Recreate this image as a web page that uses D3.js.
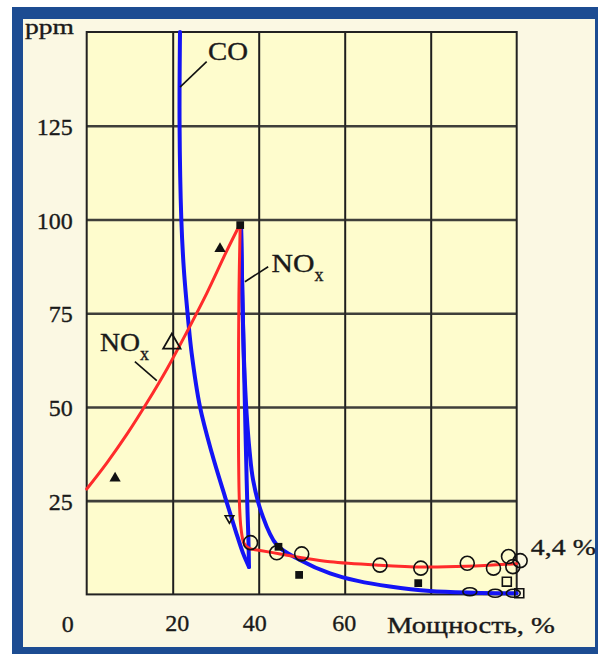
<!DOCTYPE html>
<html>
<head>
<meta charset="utf-8">
<script src="https://cdn.jsdelivr.net/npm/d3@7/dist/d3.min.js"></script>
<style>
  html, body { margin: 0; padding: 0; background: #ffffff; }
  svg { display: block; }
  text { font-family: "Liberation Serif", "Times New Roman", serif; fill: #1a1a1a; stroke: #1a1a1a; stroke-width: 0.35px; }
</style>
</head>
<body>
<script>
// Axis ticks and labels
const xTicks = [20, 40, 60, 80];
const xTickLabels = ["20", "40", "60", ""];
const yTicks = [25, 50, 75, 100, 125];
const yTickLabels = ["25", "50", "75", "100", "125"];

// NOx curve (red): rising branch up to the peak, then the sharp drop and flat tail
const noxRise = [[0, 28.1], [4.7, 35.1], [9.4, 42.8], [14.0, 51.1], [18.7, 60.2], [23.3, 70.0], [28.0, 80.5], [32.6, 91.7], [35.6, 98.6]];
const noxFall = [[35.7, 98.6], [35.4, 80], [35.3, 60], [35.3, 40], [35.5, 25], [35.9, 17.5], [36.6, 13.6], [37.8, 12.3], [40, 11.8], [45, 10.8], [50, 9.8], [56.6, 8.7], [67.8, 7.8], [78.2, 7.3], [88.4, 7.5], [100, 8.2]];

// CO curves (blue)
const coLeft = [[21.7, 150], [21.6, 125], [22.0, 100.2], [22.6, 86.6], [23.6, 73.2], [24.4, 64.4], [26.35, 50], [29.1, 37.7], [32.2, 25.9], [34.7, 16.7], [36.35, 11.0], [37.74, 7.3]];
const coRise = [[37.74, 7.3], [37.6, 15], [37.4, 22], [37.2, 30.5], [37.0, 40], [36.8, 50], [36.5, 65], [36.2, 80], [35.9, 98]];
const coRight = [[35.9, 98], [36.2, 80], [36.6, 62], [37.2, 48], [37.9, 38], [38.7, 30.5], [40.7, 21.6], [44.2, 13.2], [49.6, 9.2], [56.6, 5.6], [63, 3.6], [70.5, 2.1], [79.8, 0.9], [90, 0.45], [100, 0.3]];

// Measured points
const filledTriangles = [[6.6, 31.0], [31.0, 92.2]];
const openTriangles = [[19.8, 66.9]];
const smallOpenTriangles = [[33.2, 20.3]];
const filledSquares = [[35.7, 98.5], [44.6, 12.7], [49.4, 5.2], [77.1, 3.0]];
const openSquares = [[97.7, 3.4], [100.6, 0.3]];
const openCircles = [[38.1, 13.8], [44.2, 11.1], [50.0, 10.8], [68.2, 7.8], [77.7, 7.0], [88.5, 8.3], [94.6, 7.0], [98.1, 10.1], [99.1, 7.4], [100.8, 9.0]];
const openOvals = [[89.1, 0.7], [95.0, 0.3], [99.2, 0.3]];

const W = 598, H = 654;
const margin = { left: 86.7, right: W - 516.7, top: 32, bottom: H - 594.4 };

const svg = d3.select("body").append("svg").attr("width", W).attr("height", H);

// Frame: blue border and cream panel
svg.append("rect").attr("x", 12).attr("y", 7).attr("width", W).attr("height", H + 10).attr("fill", "#1c4c92");
svg.append("rect").attr("x", 23).attr("y", 19).attr("width", 572).attr("height", 628).attr("fill", "#fbf8e3");

const x = d3.scaleLinear().domain([0, 100]).range([margin.left, W - margin.right]);
const y = d3.scaleLinear().domain([0, 150]).range([H - margin.bottom, margin.top]);
const pw = x(100) - x(0), ph = y(0) - y(150);

// Plot background
svg.append("rect").attr("x", x(0)).attr("y", y(150)).attr("width", pw).attr("height", ph)
  .attr("fill", "#fefccd");

// Grid via axes
const xLabelShift = [4, -4.5, -1, 0];
const gx = svg.append("g").attr("transform", `translate(0,${y(0)})`)
  .call(d3.axisBottom(x).tickValues(xTicks).tickSize(-ph).tickPadding(22)
    .tickFormat((d, i) => xTickLabels[i]));
const gy = svg.append("g").attr("transform", `translate(${x(0)},0)`)
  .call(d3.axisLeft(y).tickValues(yTicks).tickSize(-pw).tickPadding(14)
    .tickFormat((d, i) => yTickLabels[i]));
[gx, gy].forEach(g => {
  g.select(".domain").remove();
  g.selectAll(".tick text").attr("font-family", "Liberation Serif").attr("font-size", 24)
    .attr("fill", "#1a1a1a").attr("stroke", "#1a1a1a").attr("stroke-width", 0.35);
});
gx.selectAll(".tick text").attr("dx", (d, i) => xLabelShift[i]).attr("dy", "0.62em");
gx.selectAll(".tick line").attr("stroke", "#1e1e1e").attr("stroke-width", 2);
gy.selectAll(".tick line").attr("stroke", "#2a2a2a").attr("stroke-width", 2.6).attr("stroke-opacity", 0.9);
gy.selectAll(".tick text").attr("dy", "0.36em");

// Plot border
svg.append("rect").attr("x", x(0)).attr("y", y(150)).attr("width", pw).attr("height", ph)
  .attr("fill", "none").attr("stroke", "#222").attr("stroke-width", 2);

// Curves
const line = d3.line().x(d => x(d[0])).y(d => y(d[1])).curve(d3.curveCatmullRom.alpha(0.5));
const curves = svg.append("g").attr("fill", "none").attr("stroke-linecap", "round").attr("stroke-linejoin", "round");
[coLeft, coRise, coRight].forEach(c =>
  curves.append("path").attr("d", line(c)).attr("stroke", "#1414f5").attr("stroke-width", 4));
[noxRise, noxFall].forEach(c =>
  curves.append("path").attr("d", line(c)).attr("stroke", "#ff2b2b").attr("stroke-width", 3));

// Markers
const mk = svg.append("g").attr("stroke", "#111");
mk.selectAll(".ft").data(filledTriangles).join("path")
  .attr("d", d3.symbol(d3.symbolTriangle, 55)())
  .attr("transform", d => `translate(${x(d[0])},${y(d[1])})`).attr("fill", "#111").attr("stroke", "none");
mk.selectAll(".ot").data(openTriangles).join("path")
  .attr("d", d3.symbol(d3.symbolTriangle, 130)())
  .attr("transform", d => `translate(${x(d[0])},${y(d[1])})`).attr("fill", "none").attr("stroke-width", 1.8);
mk.selectAll(".st").data(smallOpenTriangles).join("path")
  .attr("d", d3.symbol(d3.symbolTriangle, 32)())
  .attr("transform", d => `translate(${x(d[0])},${y(d[1])}) rotate(180)`).attr("fill", "none").attr("stroke-width", 1.6);
mk.selectAll(".fs").data(filledSquares).join("path")
  .attr("d", d3.symbol(d3.symbolSquare, 60)())
  .attr("transform", d => `translate(${x(d[0])},${y(d[1])})`).attr("fill", "#111").attr("stroke", "none");
mk.selectAll(".os").data(openSquares).join("path")
  .attr("d", d3.symbol(d3.symbolSquare, 80)())
  .attr("transform", d => `translate(${x(d[0])},${y(d[1])})`).attr("fill", "none").attr("stroke-width", 1.6);
mk.selectAll(".oc").data(openCircles).join("circle")
  .attr("cx", d => x(d[0])).attr("cy", d => y(d[1])).attr("r", 7)
  .attr("fill", "none").attr("stroke-width", 1.6);
mk.selectAll(".ov").data(openOvals).join("ellipse")
  .attr("cx", d => x(d[0])).attr("cy", d => y(d[1])).attr("rx", 7).attr("ry", 4)
  .attr("fill", "none").attr("stroke-width", 1.6);

// Curve labels with leader lines
const leaders = [
  [[27.9, 142.1], [21.7, 135.3]],
  [[42.2, 87.4], [36.8, 83.4]],
  [[11.2, 62.1], [16.3, 57.0]]
];
svg.append("g").selectAll("line").data(leaders).join("line")
  .attr("x1", d => x(d[0][0])).attr("y1", d => y(d[0][1]))
  .attr("x2", d => x(d[1][0])).attr("y2", d => y(d[1][1]))
  .attr("stroke", "#111").attr("stroke-width", 1.6);

svg.append("text").attr("x", x(28.2)).attr("y", y(142.4)).attr("font-size", 25)
  .attr("textLength", 40).attr("lengthAdjust", "spacingAndGlyphs").text("CO");

function noxLabel(xv, yv, w) {
  const t = svg.append("text").attr("x", x(xv)).attr("y", y(yv)).attr("font-size", 25);
  t.append("tspan").attr("textLength", w).attr("lengthAdjust", "spacingAndGlyphs").text("NO");
  t.append("tspan").attr("dy", 9).attr("font-size", 18).text("x");
}
noxLabel(43.0, 86.0, 43);
noxLabel(3.1, 65.0, 40);

// Axis captions
svg.append("text").attr("x", 25).attr("y", 34).attr("font-size", 22)
  .attr("textLength", 49).attr("lengthAdjust", "spacingAndGlyphs").text("ppm");
svg.append("text").attr("x", x(0) - 19).attr("y", 632).attr("font-size", 24)
  .attr("text-anchor", "middle").text("0");
svg.append("text").attr("x", 387).attr("y", 633).attr("font-size", 23)
  .attr("textLength", 168).attr("lengthAdjust", "spacingAndGlyphs").text("Мощность, %");
svg.append("text").attr("x", x(103.3)).attr("y", y(10.5)).attr("font-size", 23)
  .attr("textLength", 65).attr("lengthAdjust", "spacingAndGlyphs").text("4,4 %");
</script>
</body>
</html>
